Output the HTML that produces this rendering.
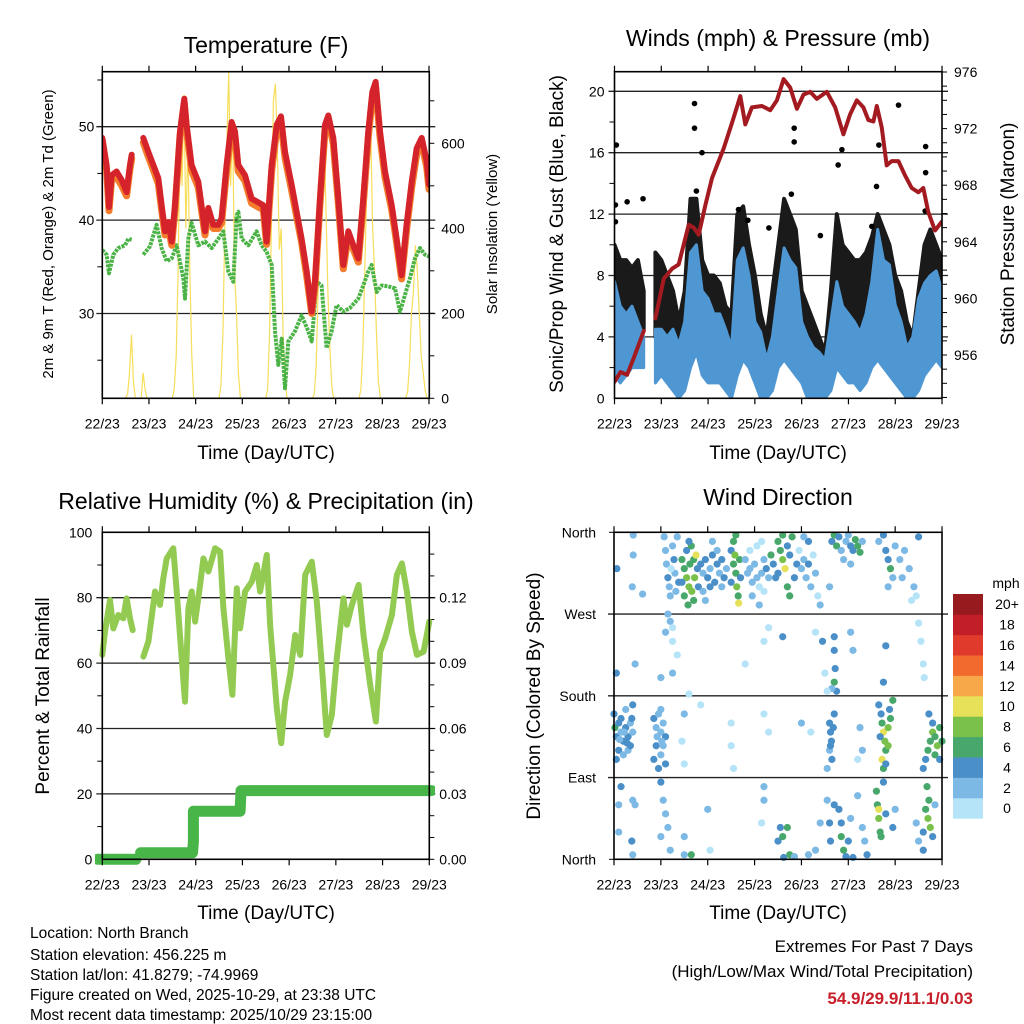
<!DOCTYPE html>
<html><head><meta charset="utf-8"><style>
html,body{margin:0;padding:0;background:#fff;}
svg{display:block;font-family:"Liberation Sans",Arial,sans-serif;}
</style></head><body>
<svg id="fig" width="1024" height="1024" viewBox="0 0 1024 1024" xmlns="http://www.w3.org/2000/svg">
<rect width="1024" height="1024" fill="#fff"/>
<defs>
<clipPath id="c1"><rect x="102.3" y="71.7" width="327" height="326.6"/></clipPath>
<clipPath id="c2"><rect x="614.5" y="71.7" width="327.6" height="326.6"/></clipPath>
<clipPath id="c3"><rect x="95" y="525" width="340" height="340"/></clipPath>
<clipPath id="c4"><rect x="608" y="526" width="340" height="340"/></clipPath>
</defs>
<g id="p1"></g>
<g id="p2"></g>
<g id="p3"></g>
<g id="p4"></g>

<text x="266" y="53" font-size="23" text-anchor="middle">Temperature (F)</text>
<text x="778" y="46" font-size="23" text-anchor="middle">Winds (mph) &amp; Pressure (mb)</text>
<text x="266" y="509" font-size="23" text-anchor="middle">Relative Humidity (%) &amp; Precipitation (in)</text>
<text x="778" y="505" font-size="23" text-anchor="middle">Wind Direction</text>

<text transform="translate(53,234) rotate(-90)" font-size="15" text-anchor="middle">2m &amp; 9m T (Red, Orange) &amp; 2m Td (Green)</text>
<text transform="translate(497,234) rotate(-90)" font-size="15" text-anchor="middle">Solar Insolation (Yellow)</text>
<text transform="translate(563,234) rotate(-90)" font-size="19" text-anchor="middle">Sonic/Prop Wind &amp; Gust (Blue, Black)</text>
<text transform="translate(1014,234) rotate(-90)" font-size="19" text-anchor="middle">Station Pressure (Maroon)</text>
<text transform="translate(49,696) rotate(-90)" font-size="19" text-anchor="middle">Percent &amp; Total Rainfall</text>
<text transform="translate(540,696) rotate(-90)" font-size="19" text-anchor="middle">Direction (Colored By Speed)</text>

<text x="266" y="459" font-size="19" text-anchor="middle">Time (Day/UTC)</text>
<text x="778" y="459" font-size="19" text-anchor="middle">Time (Day/UTC)</text>
<text x="266" y="919" font-size="19" text-anchor="middle">Time (Day/UTC)</text>
<text x="778" y="919" font-size="19" text-anchor="middle">Time (Day/UTC)</text>

<g font-size="15.5">
<text x="30" y="938">Location: North Branch</text>
<text x="30" y="960">Station elevation: 456.225 m</text>
<text x="30" y="980">Station lat/lon: 41.8279; -74.9969</text>
<text x="30" y="1000">Figure created on Wed, 2025-10-29, at 23:38 UTC</text>
<text x="30" y="1020">Most recent data timestamp: 2025/10/29 23:15:00</text>
</g>
<g text-anchor="end">
<text x="973" y="952" font-size="17">Extremes For Past 7 Days</text>
<text x="973" y="977" font-size="17">(High/Low/Max Wind/Total Precipitation)</text>
<text x="973" y="1004" font-size="17" font-weight="bold" fill="#c8202a">54.9/29.9/11.1/0.03</text>
</g>
</svg>
<script>
// ---------- DATA ----------
const dayLabels = ["22/23","23/23","24/23","25/23","26/23","27/23","28/23","29/23"];
// Temperature (F)
const tempTime = [0,.093,.143,.2,.307,.414,.521,.593,.629,null,.879,.986,1.093,1.2,1.271,1.343,1.414,1.486,1.557,1.664,1.757,1.807,1.914,2.057,2.2,2.271,2.379,2.486,2.557,2.664,2.771,2.843,2.914,3.057,3.2,3.343,3.45,3.521,3.629,3.736,3.829,3.914,4.057,4.164,4.271,4.379,4.486,4.557,4.664,4.771,4.843,4.95,5.057,5.164,5.271,5.379,5.486,5.593,5.7,5.786,5.857,5.95,6.057,6.2,6.307,6.414,6.521,6.629,6.736,6.843,6.95,7.0];
const tempRed = [48.8,45.9,41.4,44.8,45.2,44.3,43.0,45.9,47.0,null,48.8,47.3,45.9,44.5,41.6,38.8,39.8,37.7,41.6,49.5,53.0,50.2,45.9,44.1,38.8,41.3,39.5,39.5,40.2,45.9,50.5,49.5,45.9,44.8,42.3,41.9,41.6,37.7,45.9,50.2,51.1,47.3,43.8,40.9,38.0,34.5,30.2,33.4,42.3,50.2,51.2,48.8,42.3,35.2,38.8,37.3,35.9,42.3,49.5,53.7,54.8,49.5,45.2,41.6,38.0,34.1,39.5,44.1,47.7,48.8,46.3,43.8];
const tempOrange = [48.5,45.4,41.0,44.3,44.6,43.7,42.6,45.5,46.6,null,48.3,46.8,45.4,43.9,41.1,38.4,39.3,37.3,41.1,49.0,52.5,49.6,45.3,43.5,38.4,40.8,39.1,39.1,39.7,45.3,49.9,48.9,45.2,44.2,41.8,41.4,41.1,37.4,45.3,49.6,50.5,46.7,43.2,40.4,37.6,34.0,30.0,33.0,41.7,49.6,50.7,48.2,41.8,34.8,38.3,36.9,35.5,41.7,48.9,53.1,54.3,48.9,44.6,41.1,37.6,33.7,39.0,43.5,47.1,48.2,45.7,43.3];
const dewTime = [0,.093,.143,.236,.343,.486,.557,.629,null,.879,1.021,1.164,1.271,1.379,1.486,1.593,1.736,1.771,1.843,1.914,2.057,2.2,2.343,2.486,2.593,2.7,2.807,2.879,2.914,2.986,3.129,3.307,3.414,3.521,3.629,3.7,3.771,3.843,3.914,3.986,4.129,4.271,4.414,4.486,4.593,4.7,4.807,4.914,5.021,5.164,5.307,5.486,5.593,5.7,5.771,5.879,5.986,6.129,6.271,6.379,6.486,6.593,6.7,6.807,6.914,7];
const dewValues = [36.8,36.3,34.3,36.3,37.0,37.3,38.0,37.9,null,36.3,37.2,39.5,37.0,35.6,35.9,37.3,33.8,31.6,38.0,39.7,37.3,37.7,37.0,38.0,38.8,34.5,33.4,40.5,40.9,38.0,37.3,38.8,37.3,36.6,35.2,28.1,24.5,27.3,22.0,27.0,28.1,29.8,28.1,27.0,33.4,33.0,26.3,28.1,30.9,30.2,30.6,31.6,33.0,34.5,35.2,32.3,33.0,32.9,32.7,30.2,32.0,33.8,35.9,37.0,36.3,36.1];
// Solar insolation (W/m2), hourly 11..22 UTC for each of the 7 days
const solarHours = [11,12,13,14,15,16,17,18,19,20,21,22];
const solarDay0 = [0,10,60,150,40,0,0,0,0,60,20,0];
const solarDay1 = [0,20,100,300,650,500,714,400,600,300,100,0];
const solarDay2 = [0,30,150,400,600,768,500,650,300,200,60,0];
const solarDay3 = [0,20,150,420,700,740,600,350,400,150,40,0];
const solarDay4 = [0,10,80,250,400,500,643,450,250,120,30,0];
const solarDay5 = [0,20,120,300,500,550,645,400,300,150,40,0];
const solarDay6 = [0,15,80,200,250,360,300,200,100,60,20,0];
const solarDays = [solarDay0,solarDay1,solarDay2,solarDay3,solarDay4,solarDay5,solarDay6];
// Winds (mph) at 3-hour steps
const windTime = [0,.125,.25,.375,.5,.625,.75,.875,1,1.125,1.25,1.375,1.5,1.625,1.75,1.875,2,2.125,2.25,2.375,2.5,2.625,2.75,2.875,3,3.125,3.25,3.375,3.5,3.625,3.75,3.875,4,4.125,4.25,4.375,4.5,4.625,4.75,4.875,5,5.125,5.25,5.375,5.5,5.625,5.75,5.875,6,6.125,6.25,6.375,6.5,6.625,6.75,6.875,7];
const windHigh = [7.6,6,5.5,6,5,4,null,4.5,4.5,4,4.5,3.5,5,9.5,10,7,6.5,5.5,5.5,4.5,3.3,9,9.8,8,5,4.3,2.5,4,7,9.8,9,8.5,5,4,3.3,3,2.5,5,7.6,6,5.5,5,4.3,5.5,7.6,11,9,8.7,6.1,5,3.3,4,6.5,7.5,8,8.3,7];
const windLow  = [1.5,1,1.5,2,2,2,null,1,1.5,1,0.5,0,0.5,2,3,1.5,1,1,1,0.5,0,1.5,2.5,2,1,0,0,0.5,2,2.5,2,1.5,1,0,0,0,0,0.5,2,1.5,1,1,0.5,1,2,2.5,2,1.5,1,0.5,0,0,0.5,1.5,2,2.5,2];
const gustLow  = [4,4,4,4.5,4,4.5,null,4,4,4,3,2,2,5,7,6,5,4.5,4,3,2,5,7,6,5,3,1.5,2,5,7,6,6,4,2.5,1,1,1,3,6,5,4.5,4,3.5,4,5,6,5,4,3,2,1,1,2,4,5,5,5];
const gustHigh = [10,9,9,8.5,9,7,null,9.5,9,8,7,5,7,13,13,9,8,8,7.5,6,5.5,12,12.5,10,8,5.5,4,7,10,13,12,11,7,6,5,4,3,7,12,10,9.5,9,9,9.5,10.5,12,11,10,8,7,5,4,7,10,11,10,9];
const gustOutT = [0.04,0.02,0.02,0.27,0.61,1.71,1.71,1.87,1.75,2.65,2.85,3.3,3.78,3.84,3.84,4.4,4.86,4.78,5.5,5.65,5.6,6.07,6.65,6.65,6.64];
const gustOutV = [16.5,12.6,11.5,12.8,13.0,19.2,17.6,16.0,13.5,12.3,11.6,11.1,13.3,17.6,16.7,10.6,16.2,15.2,11.2,16.5,13.8,19.1,16.4,14.7,12.2];
// Station pressure (mb)
const presTime = [0,.128,.27,.413,.626,null,.875,1.053,1.23,1.373,1.586,1.693,1.8,1.942,2.084,2.333,2.511,2.688,2.795,2.937,3.151,3.329,3.471,3.613,3.755,3.898,4.04,4.182,4.324,4.538,4.716,4.893,5.036,5.178,5.32,5.427,5.533,5.605,5.711,5.818,5.925,6.067,6.209,6.351,6.494,6.6,6.707,6.849,6.991];
const presValues = [954.1,954.8,954.6,955.8,957.7,null,958.6,961.4,962.1,962.4,965.2,965.0,964.5,966.6,968.5,970.6,972.4,974.3,972.3,973.5,973.6,973.3,974.0,975.5,974.9,973.4,974.4,974.6,974.1,974.6,973.5,971.6,973.0,974.0,973.5,972.6,972.5,973.6,972.1,969.4,969.7,969.7,968.7,967.8,967.5,967.8,966.1,964.8,965.4];
// Relative humidity (%)
const rhTime = [0,.057,.164,.236,.343,.45,.521,.593,.65,null,.879,.986,1.129,1.236,1.307,1.379,1.521,1.593,1.7,1.771,1.843,1.914,1.986,2.093,2.164,2.271,2.414,2.521,2.593,2.7,2.786,2.879,2.95,3.057,3.2,3.307,3.379,3.521,3.593,3.736,3.829,3.914,4.021,4.129,4.236,4.343,4.486,4.593,4.7,4.807,4.914,5.021,5.164,5.236,5.343,5.486,5.593,5.736,5.857,5.95,6.057,6.2,6.307,6.414,6.521,6.629,6.736,6.879,7];
const rhValues = [62.5,69.6,79.3,70.6,74.7,73.7,79.8,73.7,70.1,null,62,66.6,81.9,77.8,85.9,92,95.1,81.9,61.5,48.2,76.8,81.9,72.7,83.9,92,88,95.1,94.1,76.8,61.5,50.3,82.9,70.6,81.9,84.9,90,81.9,93.1,71.7,46.2,35.5,48.2,56.4,68.6,62.5,87,91,78.8,59.4,38,44.1,61.5,79.8,71.7,77.8,83.9,68.6,53.3,42.1,63.5,67.6,74.7,87,90.5,81.9,69.6,62.5,63.5,72.7];
// Cumulative precipitation (in)
const precipTime = [-0.1,0.72,null,0.82,1.93,1.95,1.95,1.95,2.95,2.97,7.05];
const precipValues = [0,0,null,0.003,0.003,0.008,0.013,0.022,0.022,0.0315,0.0315];
// Wind direction observations [day, degrees, mph]
const obsNorth = [[0.06,320,4],[0.41,335,2],[0.41,357,2],[0.39,300,2],[0.61,292,2],[1.07,355,2],
[1.1,340,2],[1.12,325,2],[1.15,310,4],[1.18,300,2],[1.2,290,2],[1.25,345,2],[1.28,330,4],[1.3,315,2],[1.32,295,2],[1.22,320,0],[1.15,270,2],[1.2,262,2],[1.25,255,0],[1.35,355,2],[1.38,305,4],
[1.45,330,6],[1.5,320,6],[1.55,310,8],[1.6,300,8],[1.62,325,6],[1.66,295,8],[1.7,330,6],[1.72,310,8],[1.5,290,6],[1.55,340,4],[1.65,345,6],[1.75,335,10],[1.78,320,4],[1.8,300,4],[1.45,305,4],[1.7,285,6],[1.6,350,4],[1.58,280,6],
[1.85,325,4],[1.9,315,2],[1.95,330,4],[2.0,310,4],[2.05,320,2],[2.1,335,4],[2.15,305,4],[2.2,325,4],[2.25,315,2],[2.3,330,4],[2.35,310,4],[2.4,320,2],[1.9,295,2],[2.05,300,4],[2.2,340,2],[2.3,300,2],[2.1,350,2],[1.95,285,2],
[2.5,340,4],[2.55,325,6],[2.6,315,6],[2.62,300,8],[2.65,290,6],[2.55,350,6],[2.6,357,6],[2.68,330,6],[2.66,282,10],[2.7,310,4],[2.58,335,8],[2.5,305,4],
[2.8,330,2],[2.85,315,2],[2.9,320,2],[2.95,305,2],[3.0,325,2],[3.05,310,2],[3.1,300,0],[3.15,315,2],[3.2,330,2],[3.25,320,4],[3.3,310,2],[2.9,340,0],[3.05,345,0],[3.15,350,0],[2.95,290,2],[3.2,295,0],[3.1,280,2],
[3.35,335,6],[3.4,325,4],[3.45,310,4],[3.5,350,6],[3.55,340,6],[3.6,330,8],[3.65,320,10],[3.7,300,6],[3.75,290,6],[3.8,355,6],[3.6,357,6],[3.7,345,4],[3.85,310,4],[3.9,325,4],[3.5,315,4],[3.75,335,4],
[3.95,340,0],[4.0,320,2],[4.05,330,2],[4.1,310,2],[4.15,325,4],[4.2,300,2],[4.25,335,0],[4.3,315,2],[4.35,290,0],[4.15,350,4],[4.05,355,2],[4.4,280,2],
[4.65,350,4],[4.7,357,6],[4.75,345,6],[4.8,355,4],[4.85,340,2],[4.95,350,2],[5.0,357,2],[5.05,345,4],[5.1,340,4],[5.15,352,6],[5.2,345,6],[5.25,338,6],[5.3,350,2],[4.9,330,2],[5.05,325,2],[4.6,300,2],
[5.65,350,2],[5.75,357,4],[5.8,340,4],[5.85,330,4],[5.9,320,6],[5.95,310,2],[6.0,345,2],[6.1,330,2],[6.2,340,2],[6.3,320,2],[6.4,300,2],[6.45,290,0],[6.5,355,4],[5.85,300,2],[6.15,310,2],[6.35,285,0]];
const obsMid = [[1.1,250,2],[1.25,240,0],[1.35,225,0],[1.25,205,2],[1.0,200,2],[0.45,215,2],[0.05,205,4],[1.6,182,0],[2.8,215,0],[3.2,240,0],[3.3,255,0],[3.6,245,4],[4.3,250,0],[4.45,240,4],[4.7,245,4],[4.7,230,4],[4.72,210,4],[4.7,195,6],[4.75,185,4],[4.65,188,2],[5.05,250,2],[5.1,230,2],[5.8,235,4],[5.75,195,4],[6.5,260,0],[6.55,240,0],[6.6,215,0],[6.62,200,0],[4.5,205,0],[4.55,185,0]];
const obsSouthEast = [[0.0,160,4],[0.02,145,6],[0.05,135,4],[0.1,150,4],[0.15,140,2],[0.2,130,4],[0.25,145,4],[0.3,135,4],[0.35,150,2],[0.1,120,4],[0.2,115,2],[0.3,120,2],[0.05,110,4],[0.35,125,4],[0.25,165,2],[0.15,155,4],[0.4,140,2],[0.4,170,4],[0.38,155,4],[0.12,132,2],[0.22,140,2],[0.28,128,4],
[0.85,155,4],[0.9,145,2],[0.95,160,2],[1.0,140,2],[1.05,150,2],[1.1,135,4],[0.9,125,4],[1.0,115,2],[0.95,100,4],[1.05,125,2],[1.0,165,2],[0.85,110,4],[1.1,105,4],[0.92,135,2],[1.02,130,2],
[1.5,160,2],[1.45,130,0],[1.5,105,0],[2.5,150,0],[2.5,125,0],[2.55,100,0],[3.2,160,0],[3.3,140,0],[1.85,170,0],[4.0,150,2],[4.2,140,0],
[4.6,150,4],[4.62,140,4],[4.64,130,4],[4.6,120,2],[4.65,110,4],[4.7,160,4],[4.55,100,2],[4.62,125,4],[4.68,145,4],
[5.25,145,2],[5.3,120,2],[5.2,110,0],
[5.65,170,4],[5.7,160,4],[5.72,150,6],[5.75,140,10],[5.78,130,8],[5.8,120,6],[5.72,110,10],[5.75,100,6],[5.85,145,8],[5.85,125,8],[5.9,155,6],[5.88,165,4],[5.95,175,6],[5.68,135,4],[5.8,105,4],
[6.65,110,4],[6.7,120,6],[6.75,130,6],[6.8,140,8],[6.85,135,6],[6.9,125,8],[6.95,145,6],[7.0,130,6],[6.85,115,6],[6.72,160,4],[6.95,110,4],[6.8,150,4],[6.6,100,4]];
const obsLower = [[0.1,60,2],[0.15,80,4],[0.4,65,2],[0.45,60,2],[0.1,30,2],[0.38,20,4],[0.4,5,2],[1.0,85,4],[1.05,65,2],[1.1,50,2],[1.15,35,2],[1.0,25,2],[1.2,10,2],[1.5,25,2],[1.5,5,2],[1.65,5,6],[2.0,55,2],[2.05,10,0],[3.2,80,2],[3.2,65,2],[3.15,40,0],[3.5,20,4],[3.55,35,4],[3.6,25,6],[3.7,35,6],[3.62,2,4],[3.75,5,6],[3.85,3,2],[4.15,5,2],[4.3,10,2],[4.4,40,2],[4.55,65,2],[4.6,40,4],[4.62,20,4],[4.7,60,4],[4.8,55,4],[4.85,40,4],[4.85,25,6],[4.9,10,6],[4.95,3,4],[5.0,20,4],[5.05,45,2],[5.1,2,4],[5.2,70,2],[5.3,35,2],[5.35,20,2],[5.4,5,4],[5.6,75,6],[5.62,60,6],[5.65,45,8],[5.68,30,6],[5.65,55,10],[5.7,25,6],[5.75,85,4],[5.8,50,4],[5.95,35,4],[6.0,55,2],[6.45,40,2],[6.5,20,2],[6.6,30,4],[6.6,10,4],[6.65,55,6],[6.7,45,8],[6.72,65,6],[6.75,35,8],[6.68,80,6],[6.8,25,4],[6.85,60,2]];
const speedBins = ["0","2","4","6","8","10","12","14","16","18","20+"];
const speedColors = ["#b5e3f8","#7db9e5","#4a8fc7","#48a86b","#7ac14b","#e6e158","#f7a849","#f26a2e","#e03a2c","#c11e27","#961a1e"];

// ---------- HELPERS ----------
const NS = "http://www.w3.org/2000/svg";
function mk(parent, tag, attrs) {
  const e = document.createElementNS(NS, tag);
  for (const k in attrs) e.setAttribute(k, attrs[k]);
  parent.appendChild(e);
  return e;
}
function pathFrom(ts, vs, fx, fy) {
  let d = "", pen = false;
  for (let i = 0; i < ts.length; i++) {
    if (ts[i] === null || vs[i] === null) { pen = false; continue; }
    d += (pen ? "L" : "M") + fx(ts[i]).toFixed(1) + "," + fy(vs[i]).toFixed(1);
    pen = true;
  }
  return d;
}
function bandFrom(ts, lo, hi, fx, fy) {
  let d = "", seg = [];
  const flush = () => {
    if (seg.length > 1) {
      d += "M" + seg.map(i => fx(ts[i]).toFixed(1) + "," + fy(hi[i]).toFixed(1)).join("L");
      d += "L" + seg.slice().reverse().map(i => fx(ts[i]).toFixed(1) + "," + fy(lo[i]).toFixed(1)).join("L") + "Z";
    }
    seg = [];
  };
  for (let i = 0; i < ts.length; i++) { if (lo[i] === null) flush(); else seg.push(i); }
  flush();
  return d;
}
function txt(parent, x, y, s, size, anchor) {
  const t = mk(parent, "text", {x: x, y: y, "font-size": size, "text-anchor": anchor});
  t.textContent = s;
  return t;
}
function frame(g, L, T, R, B, xOf) {
  for (let d = 0; d <= 7; d++) {
    const x = xOf(d);
    const tk = mk(g, "path", {d: `M${x},${B}V${B+6}M${x},${T}V${T-6}`, stroke: "#000", "stroke-width": 1.2});
    
    
    const lb = txt(g, x, B + 30, dayLabels[d], 14, "middle");
    
    
  }
}
function hgrid(g, L, R, y) {
  const gl = mk(g, "line", {x1: L - 6, x2: R + 6, y1: y, y2: y, stroke: "#222", "stroke-width": 1.3});
  
  
}
function ytick(g, x, y, dir) {
  const t = mk(g, "line", {x1: x, x2: x + dir * 5, y1: y, y2: y, stroke: "#000", "stroke-width": 1});
  
  
}
function box(g, L, T, R, B) {
  const b = mk(g, "rect", {x: L, y: T, width: R - L, height: B - T, fill: "none", stroke: "#000", "stroke-width": 1.6});
  
  
}

// ---------- PANEL 1: TEMPERATURE ----------
(function () {
  const g = document.getElementById("p1");
  const L = 102.3, R = 429.3, T = 71.7, B = 398.3;
  const x = t => L + t * 46.67;
  const y = v => 126.7 + (50 - v) * 9.34;
  const ys = w => B - w * 0.425;
  [30, 40, 50].forEach(v => { hgrid(g, L, R, y(v)); const l = txt(g, L - 8, y(v) + 5, String(v), 14, "end");   });
  [25, 35, 45, 55].forEach(v => ytick(g, L, y(v), -1));
  for (let w = 0; w <= 700; w += 100) ytick(g, R, ys(w), 1);
  [0, 200, 400, 600].forEach(w => { const l = txt(g, R + 12, ys(w) + 5, String(w), 14, "start");   });
  const cg = mk(g, "g", {"clip-path": "url(#c1)"});
  solarDays.forEach((day, k) => {
    const ts = solarHours.map(h => k + (h + 1) / 24);
    const p = mk(cg, "path", {d: pathFrom(ts, day, x, ys), fill: "none", stroke: "#f7de5a", "stroke-width": 1.2});
    
    
  });
  const dp = mk(cg, "path", {d: pathFrom(dewTime, dewValues, x, y), fill: "none", stroke: "#4bb346", "stroke-width": 4, "stroke-linejoin": "round", "stroke-dasharray": "3 1"});
  
  
  const op = mk(cg, "path", {d: pathFrom(tempTime, tempOrange, x, y), fill: "none", stroke: "#f47c2c", "stroke-width": 7, "stroke-linejoin": "round", "stroke-linecap": "round"});
  
  
  const rp = mk(cg, "path", {d: pathFrom(tempTime, tempRed, x, y), fill: "none", stroke: "#d4232a", "stroke-width": 6, "stroke-linejoin": "round", "stroke-linecap": "round"});
  
  
  box(g, L, T, R, B);
  frame(g, L, T, R, B, x);
})();

// ---------- PANEL 2: WINDS & PRESSURE ----------
(function () {
  const g = document.getElementById("p2");
  const L = 614.5, R = 942, T = 71.7, B = 398.3;
  const x = t => L + t * 46.79;
  const y = m => B - m * 15.35;
  const yp = p => 355 - (p - 956) * 14.15;
  [4, 8, 12, 16, 20].forEach(v => hgrid(g, L, R, y(v)));
  [2, 6, 10, 14, 18].forEach(v => ytick(g, L, y(v), -1));
  [0, 4, 8, 12, 16, 20].forEach(v => { const l = txt(g, L - 10, y(v) + 5, String(v), 14, "end");   });
  for (let p = 953; p <= 976; p++) ytick(g, R, yp(p), 1);
  [956, 960, 964, 968, 972, 976].forEach(p => { const l = txt(g, R + 12, yp(p) + 5, String(p), 14, "start");   });
  const cg = mk(g, "g", {"clip-path": "url(#c2)"});
  const gb = mk(cg, "path", {d: bandFrom(windTime, gustLow, gustHigh, x, y), fill: "#1a1a1a", stroke: "#1a1a1a", "stroke-width": 4, "stroke-linejoin": "round"});
  
  
  gustOutT.forEach((t, i) => {
    const c = mk(cg, "circle", {cx: x(t), cy: y(gustOutV[i]), r: 2.8, fill: "#000"});
    
    
  });
  const wb = mk(cg, "path", {d: bandFrom(windTime, windLow, windHigh, x, y), fill: "#4f97d3", stroke: "#4f97d3", "stroke-width": 3, "stroke-linejoin": "round"});
  
  
  const pp = mk(cg, "path", {d: pathFrom(presTime, presValues, x, yp), fill: "none", stroke: "#a31b20", "stroke-width": 4, "stroke-linejoin": "round", "stroke-linecap": "round"});
  
  
  box(g, L, T, R, B);
  frame(g, L, T, R, B, x);
})();

// ---------- PANEL 3: RH & PRECIP ----------
(function () {
  const g = document.getElementById("p3");
  const L = 102.3, R = 429.3, T = 532.3, B = 859.3;
  const x = t => L + t * 46.71;
  const y = r => B - r * 3.27;
  const yr = v => B - v / 0.03 * 65.4;
  [20, 40, 60, 80].forEach(v => hgrid(g, L, R, y(v)));
  [10, 30, 50, 70, 90].forEach(v => ytick(g, L, y(v), -1));
  [0, 20, 40, 60, 80, 100].forEach(v => { const l = txt(g, L - 10, y(v) + 5, String(v), 14, "end");   });
  for (let k = 0; k <= 14; k++) ytick(g, R, yr(k * 0.01), 1);
  [0, 0.03, 0.06, 0.09, 0.12].forEach(v => { const l = txt(g, R + 10, yr(v) + 5, v.toFixed(2), 14, "start");   });
  const cg = mk(g, "g", {"clip-path": "url(#c3)"});
  const hp = mk(cg, "path", {d: pathFrom(rhTime, rhValues, x, y), fill: "none", stroke: "#93cb52", "stroke-width": 6, "stroke-linejoin": "round", "stroke-linecap": "round"});
  
  
  const pr = mk(cg, "path", {d: pathFrom(precipTime, precipValues, x, yr), fill: "none", stroke: "#48b548", "stroke-width": 11, "stroke-linejoin": "round", "stroke-linecap": "round"});
  
  
  box(g, L, T, R, B);
  frame(g, L, T, R, B, x);
})();

// ---------- PANEL 4: WIND DIRECTION ----------
(function () {
  const g = document.getElementById("p4");
  const L = 614, R = 942, T = 532.3, B = 859.3;
  const x = t => L + t * 46.86;
  const y = d => B - d * 0.9083;
  [90, 180, 270].forEach(d => hgrid(g, L, R, y(d)));
  const names = ["North", "East", "South", "West", "North"];
  names.forEach((n, i) => { const l = txt(g, L - 18, y(i * 90) + 5, n, 14, "end");   });
  [0, 360].forEach(d => ytick(g, L, y(d), -1));
  const cg = mk(g, "g", {"clip-path": "url(#c4)"});
  [obsNorth, obsMid, obsSouthEast, obsLower].forEach(set => set.forEach(o => {
    const bin = Math.min(10, Math.floor((o[2] + 1) / 2));
    const c = mk(cg, "circle", {cx: x(o[0]), cy: y(o[1]), r: 3.6, fill: speedColors[bin]});
    
    
  }));
  box(g, L, T, R, B);
  frame(g, L, T, R, B, x);
  const lg = mk(g, "g", {});
  
  
  const ml = txt(lg, 1006, 588, "mph", 14, "middle");
  
  
  const top = 594, h = 20.4;
  speedBins.forEach((s, i) => {
    const k = speedBins.length - 1 - i;
    const yy = top + k * h;
    const r = mk(lg, "rect", {x: 953, y: yy, width: 30, height: h + 0.3, fill: speedColors[i]});
    
    
    const l = txt(lg, 1007, yy + h / 2 + 5, s, 14, "middle");
    
    
  });
})();
</script>
</body></html>
